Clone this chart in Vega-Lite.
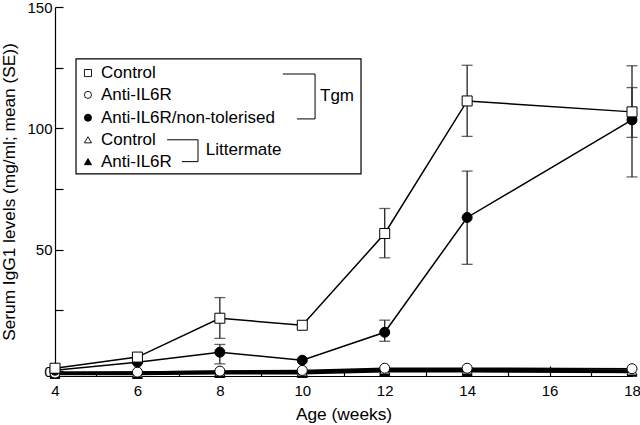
{
  "$schema": "https://vega.github.io/schema/vega-lite/v6.json",
  "width": 577,
  "height": 369,
  "autosize": "none",
  "padding": {"left": 55, "top": 7, "right": 8, "bottom": 49},
  "background": "white",
  "config": {
    "view": {"stroke": null},
    "font": "Liberation Sans",
    "axis": {"labelFont": "Liberation Sans", "titleFont": "Liberation Sans", "labelColor": "black", "titleColor": "black", "domainColor": "black", "tickColor": "black", "grid": false, "titleFontWeight": "normal", "labelFontSize": 15, "titleFontSize": 17.3}
  },
  "datasets": {
    "pts": [
      {"series": "Littermate Anti-IL6R", "week": 4, "value": -1.2},
      {"series": "Littermate Anti-IL6R", "week": 6, "value": -1.2},
      {"series": "Littermate Anti-IL6R", "week": 8, "value": -0.8},
      {"series": "Littermate Anti-IL6R", "week": 10, "value": -0.8},
      {"series": "Littermate Anti-IL6R", "week": 12, "value": 0},
      {"series": "Littermate Anti-IL6R", "week": 14, "value": 0},
      {"series": "Littermate Anti-IL6R", "week": 18, "value": -0.3},
      {"series": "Littermate Control", "week": 4, "value": -0.6},
      {"series": "Littermate Control", "week": 6, "value": -0.6},
      {"series": "Littermate Control", "week": 8, "value": -0.2},
      {"series": "Littermate Control", "week": 10, "value": -0.2},
      {"series": "Littermate Control", "week": 12, "value": 0.6},
      {"series": "Littermate Control", "week": 14, "value": 0.6},
      {"series": "Littermate Control", "week": 18, "value": 0.2},
      {"series": "Tgm Anti-IL6R", "week": 4, "value": -0.8},
      {"series": "Tgm Anti-IL6R", "week": 6, "value": -0.4},
      {"series": "Tgm Anti-IL6R", "week": 8, "value": 0},
      {"series": "Tgm Anti-IL6R", "week": 10, "value": 0.3},
      {"series": "Tgm Anti-IL6R", "week": 12, "value": 1.2},
      {"series": "Tgm Anti-IL6R", "week": 14, "value": 1.2},
      {"series": "Tgm Anti-IL6R", "week": 18, "value": 1.0},
      {"series": "Tgm Anti-IL6R/non-tolerised", "week": 4, "value": 0.4},
      {"series": "Tgm Anti-IL6R/non-tolerised", "week": 6, "value": 3.7},
      {"series": "Tgm Anti-IL6R/non-tolerised", "week": 8, "value": 7.8},
      {"series": "Tgm Anti-IL6R/non-tolerised", "week": 10, "value": 4.5},
      {"series": "Tgm Anti-IL6R/non-tolerised", "week": 12, "value": 16},
      {"series": "Tgm Anti-IL6R/non-tolerised", "week": 14, "value": 63.3},
      {"series": "Tgm Anti-IL6R/non-tolerised", "week": 18, "value": 103.5},
      {"series": "Tgm Control", "week": 4, "value": 1.2},
      {"series": "Tgm Control", "week": 6, "value": 5.8},
      {"series": "Tgm Control", "week": 8, "value": 21.8},
      {"series": "Tgm Control", "week": 10, "value": 18.9},
      {"series": "Tgm Control", "week": 12, "value": 56.7},
      {"series": "Tgm Control", "week": 14, "value": 111.3},
      {"series": "Tgm Control", "week": 18, "value": 106.8}
    ],
    "err": [
      {"series": "Tgm Control", "week": 8, "lo": 13.5, "hi": 30.3},
      {"series": "Tgm Control", "week": 12, "lo": 46.7, "hi": 67},
      {"series": "Tgm Control", "week": 14, "lo": 96.7, "hi": 126},
      {"series": "Tgm Control", "week": 18, "lo": 96.3, "hi": 125.8},
      {"series": "Tgm Anti-IL6R/non-tolerised", "week": 8, "lo": 3, "hi": 11},
      {"series": "Tgm Anti-IL6R/non-tolerised", "week": 12, "lo": 12.3, "hi": 21},
      {"series": "Tgm Anti-IL6R/non-tolerised", "week": 14, "lo": 44, "hi": 82.4},
      {"series": "Tgm Anti-IL6R/non-tolerised", "week": 18, "lo": 80, "hi": 116.8}
    ],
    "box": [{"x1": 4.51, "x2": 11.425, "y1": 81.3, "y2": 128.6}],
    "leg": [
      {"series": "Tgm Control", "label": "Control", "lx": 4.80, "ly": 122.8},
      {"series": "Tgm Anti-IL6R", "label": "Anti-IL6R", "lx": 4.80, "ly": 113.8},
      {"series": "Tgm Anti-IL6R/non-tolerised", "label": "Anti-IL6R/non-tolerised", "lx": 4.80, "ly": 104.4},
      {"series": "Littermate Control", "label": "Control", "lx": 4.80, "ly": 95.3},
      {"series": "Littermate Anti-IL6R", "label": "Anti-IL6R", "lx": 4.80, "ly": 86.3}
    ],
    "br": [
      {"x1": 9.53, "x2": 10.31, "y1": 122.4, "y2": 122.4},
      {"x1": 10.31, "x2": 10.31, "y1": 122.4, "y2": 103.9},
      {"x1": 9.87, "x2": 10.31, "y1": 103.9, "y2": 103.9},
      {"x1": 6.72, "x2": 7.47, "y1": 95.3, "y2": 95.3},
      {"x1": 7.47, "x2": 7.47, "y1": 95.3, "y2": 86.3},
      {"x1": 7.08, "x2": 7.47, "y1": 86.3, "y2": 86.3}
    ],
    "grp": [
      {"text": "Tgm", "gx": 10.43, "gy": 113.4},
      {"text": "Littermate", "gx": 7.66, "gy": 91.2}
    ]
  },
  "layer": [
    {
      "data": {"name": "err"},
      "mark": {"type": "rule", "color": "#222", "strokeWidth": 1.3},
      "encoding": {
        "x": {"field": "week", "type": "quantitative", "title": "Age (weeks)",
          "scale": {"domain": [4, 18], "nice": false, "zero": false},
          "axis": {"values": [4,5,6,7,8,9,10,11,12,13,14,15,16,17,18], "labelExpr": "datum.value % 2 === 0 ? datum.label : ''",
            "tickSize": {"condition": {"test": "datum.value % 2 === 0", "value": -10}, "value": -5},
            "labelPadding": 17, "labelFlush": false, "titlePadding": 7, "domainWidth": 1.2, "tickWidth": 1.2}},
        "y": {"field": "lo", "type": "quantitative", "title": "Serum IgG1 levels (mg/ml; mean (SE))",
          "scale": {"domain": [-2, 150], "nice": false, "zero": false},
          "axis": {"values": [0,25,50,75,100,125,150], "labelExpr": "datum.value % 50 === 0 ? datum.label : ''",
            "tickSize": -8, "labelPadding": 11, "titlePadding": 8, "domainWidth": 1.2, "tickWidth": 1.2}},
        "y2": {"field": "hi"}
      }
    },
    {
      "data": {"name": "err"},
      "mark": {"type": "tick", "orient": "horizontal", "size": 11, "thickness": 1.3, "color": "#222"},
      "encoding": {
        "x": {"field": "week", "type": "quantitative", "title": "Age (weeks)"},
        "y": {"field": "lo", "type": "quantitative", "title": "Serum IgG1 levels (mg/ml; mean (SE))"}
      }
    },
    {
      "data": {"name": "err"},
      "mark": {"type": "tick", "orient": "horizontal", "size": 11, "thickness": 1.3, "color": "#222"},
      "encoding": {
        "x": {"field": "week", "type": "quantitative", "title": "Age (weeks)"},
        "y": {"field": "hi", "type": "quantitative", "title": "Serum IgG1 levels (mg/ml; mean (SE))"}
      }
    },
    {
      "data": {"name": "pts"},
      "transform": [{"filter": "indexof(datum.series, 'Littermate') === 0"}],
      "mark": {"type": "line", "color": "black", "strokeWidth": 2.6},
      "encoding": {
        "x": {"field": "week", "type": "quantitative", "title": "Age (weeks)"},
        "y": {"field": "value", "type": "quantitative", "title": "Serum IgG1 levels (mg/ml; mean (SE))"},
        "detail": {"field": "series"}
      }
    },
    {
      "data": {"name": "pts"},
      "transform": [{"filter": "indexof(datum.series, 'Tgm') === 0"}],
      "mark": {"type": "line", "color": "black", "strokeWidth": 1.5},
      "encoding": {
        "x": {"field": "week", "type": "quantitative", "title": "Age (weeks)"},
        "y": {"field": "value", "type": "quantitative", "title": "Serum IgG1 levels (mg/ml; mean (SE))"},
        "detail": {"field": "series"}
      }
    },
    {
      "data": {"name": "pts"},
      "mark": {"type": "point", "filled": true, "stroke": "black", "strokeWidth": 1, "opacity": 1},
      "encoding": {
        "x": {"field": "week", "type": "quantitative", "title": "Age (weeks)"},
        "y": {"field": "value", "type": "quantitative", "title": "Serum IgG1 levels (mg/ml; mean (SE))"},
        "shape": {"field": "series", "type": "nominal", "legend": null,
          "scale": {"domain": ["Tgm Control", "Tgm Anti-IL6R", "Tgm Anti-IL6R/non-tolerised", "Littermate Control", "Littermate Anti-IL6R"],
            "range": ["square", "circle", "circle", "triangle-up", "triangle-up"]}},
        "fill": {"field": "series", "type": "nominal", "legend": null,
          "scale": {"domain": ["Tgm Control", "Tgm Anti-IL6R", "Tgm Anti-IL6R/non-tolerised", "Littermate Control", "Littermate Anti-IL6R"],
            "range": ["white", "white", "black", "white", "black"]}},
        "size": {"value": 100},
        "order": {"field": "week"}
      }
    },
    {
      "data": {"name": "box"},
      "mark": {"type": "rect", "fill": "white", "stroke": "black", "strokeWidth": 1.2},
      "encoding": {
        "x": {"field": "x1", "type": "quantitative", "title": "Age (weeks)"},
        "x2": {"field": "x2"},
        "y": {"field": "y1", "type": "quantitative", "title": "Serum IgG1 levels (mg/ml; mean (SE))"},
        "y2": {"field": "y2"}
      }
    },
    {
      "data": {"name": "leg"},
      "mark": {"type": "point", "filled": true, "stroke": "black", "strokeWidth": 0.9, "opacity": 1},
      "encoding": {
        "x": {"field": "lx", "type": "quantitative", "title": "Age (weeks)"},
        "y": {"field": "ly", "type": "quantitative", "title": "Serum IgG1 levels (mg/ml; mean (SE))"},
        "shape": {"field": "series", "type": "nominal", "legend": null},
        "fill": {"field": "series", "type": "nominal", "legend": null},
        "size": {"value": 50}
      }
    },
    {
      "data": {"name": "leg"},
      "mark": {"type": "text", "align": "left", "baseline": "middle", "dx": 13, "fontSize": 17, "font": "Liberation Sans", "color": "black"},
      "encoding": {
        "x": {"field": "lx", "type": "quantitative", "title": "Age (weeks)"},
        "y": {"field": "ly", "type": "quantitative", "title": "Serum IgG1 levels (mg/ml; mean (SE))"},
        "text": {"field": "label"}
      }
    },
    {
      "data": {"name": "br"},
      "mark": {"type": "rule", "color": "black", "strokeWidth": 1},
      "encoding": {
        "x": {"field": "x1", "type": "quantitative", "title": "Age (weeks)"},
        "x2": {"field": "x2"},
        "y": {"field": "y1", "type": "quantitative", "title": "Serum IgG1 levels (mg/ml; mean (SE))"},
        "y2": {"field": "y2"}
      }
    },
    {
      "data": {"name": "grp"},
      "mark": {"type": "text", "align": "left", "baseline": "middle", "fontSize": 17, "font": "Liberation Sans", "color": "black"},
      "encoding": {
        "x": {"field": "gx", "type": "quantitative", "title": "Age (weeks)"},
        "y": {"field": "gy", "type": "quantitative", "title": "Serum IgG1 levels (mg/ml; mean (SE))"},
        "text": {"field": "text"}
      }
    }
  ]
}
